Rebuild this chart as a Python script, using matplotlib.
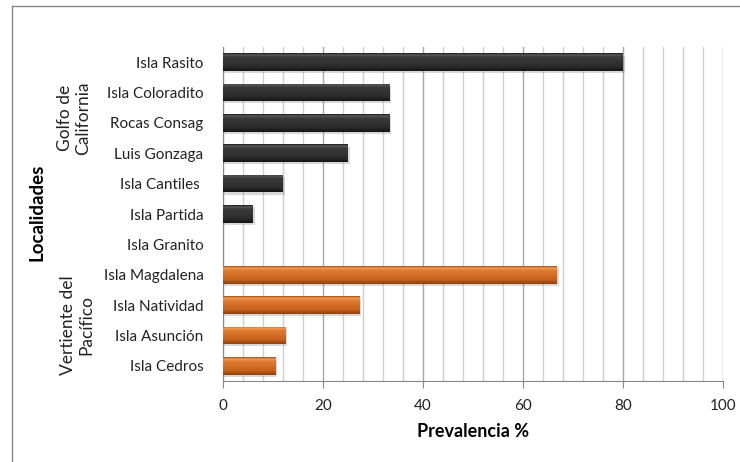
import matplotlib.pyplot as plt
import numpy as np
from matplotlib.colors import LinearSegmentedColormap
from matplotlib.lines import Line2D

# localities, top to bottom
localidades = ['Isla Rasito', 'Isla Coloradito', 'Rocas Consag', 'Luis Gonzaga',
               'Isla Cantiles ', 'Isla Partida', 'Isla Granito', 'Isla Magdalena',
               'Isla Natividad', 'Isla Asunción', 'Isla Cedros']
prevalencia = [80, 33.3, 33.3, 25, 12, 6, 0, 66.7, 27.3, 12.5, 10.5]
region = ['golfo'] * 7 + ['pacifico'] * 4

plt.rcParams['font.family'] = ['Lato', 'DejaVu Sans']

fig = plt.figure(figsize=(7.4, 4.62), dpi=100)
ax = fig.add_axes([223 / 740, 81 / 462, 500 / 740, 334 / 462])

# glossy bar fills
cmaps = {
    'golfo': LinearSegmentedColormap.from_list(
        'g', [(0, '#1a1a1a'), (0.1, '#5a5a5a'), (0.22, '#3a3a3a'),
              (0.75, '#2c2c2c'), (1, '#141414')]),
    'pacifico': LinearSegmentedColormap.from_list(
        'p', [(0, '#a04c12'), (0.1, '#f29a55'), (0.25, '#dd7a30'),
              (0.75, '#c8621c'), (1, '#8e400c')]),
}
grad = np.linspace(0, 1, 64).reshape(-1, 1)
h = 0.58

for i, (v, r) in enumerate(zip(prevalencia, region)):
    if v <= 0:
        continue
    # soft drop shadow
    ax.barh(i + 0.07, v + 0.4, height=h, color='#808080', alpha=0.3,
            linewidth=0, zorder=2)
    bar = ax.barh(i, v, height=h, color='none', linewidth=0, zorder=3)[0]
    im = ax.imshow(grad, extent=[0, v, i + h / 2, i - h / 2], aspect='auto',
                   cmap=cmaps[r], zorder=3, interpolation='bilinear')
    im.set_clip_path(bar)

ax.set_xlim(0, 100)
ax.set_ylim(len(localidades) - 0.5, -0.5)
ax.set_aspect('auto')

ax.set_xticks(range(0, 101, 20))
ax.set_xticks(range(0, 101, 4), minor=True)
ax.grid(axis='x', which='minor', color='#cfcfcf', linewidth=1, zorder=0)
ax.grid(axis='x', which='major', color='#a8a8a8', linewidth=1, zorder=0)
ax.set_axisbelow(True)
ax.tick_params(axis='x', which='major', length=5, color='#888888',
               labelsize=11, pad=8, labelcolor='#222222')
ax.tick_params(axis='x', which='minor', length=0)

ax.set_yticks(range(len(localidades)))
ax.set_yticklabels(localidades, fontsize=11, color='#222222')
ax.tick_params(axis='y', length=0, pad=14)

for s in ['top', 'right']:
    ax.spines[s].set_visible(False)
for s in ['left', 'bottom']:
    ax.spines[s].set_color('#888888')

ax.set_xlabel('Prevalencia %', fontsize=13, fontweight='bold', labelpad=7)

# region group labels and the axis title
fig.text(74 / 740, 1 - 118 / 462, 'Golfo de\nCalifornia', rotation=90,
         ha='center', va='center', fontsize=12.5, color='#222222', linespacing=1.15)
fig.text(77 / 740, 1 - 325 / 462, 'Vertiente del\nPacífico', rotation=90,
         ha='center', va='center', fontsize=12.5, color='#222222', linespacing=1.15)
fig.text(37 / 740, 1 - 212 / 462, 'Localidades', rotation=90,
         ha='center', va='center', fontsize=13.5, fontweight='bold')

# outer frame
fig.add_artist(Line2D([12 / 740, 1], [1 - 5.5 / 462] * 2,
                      color='#888888', linewidth=1))
fig.add_artist(Line2D([12 / 740] * 2, [0, 1 - 5.5 / 462],
                      color='#888888', linewidth=1))

fig.savefig('out.png', dpi=100)
